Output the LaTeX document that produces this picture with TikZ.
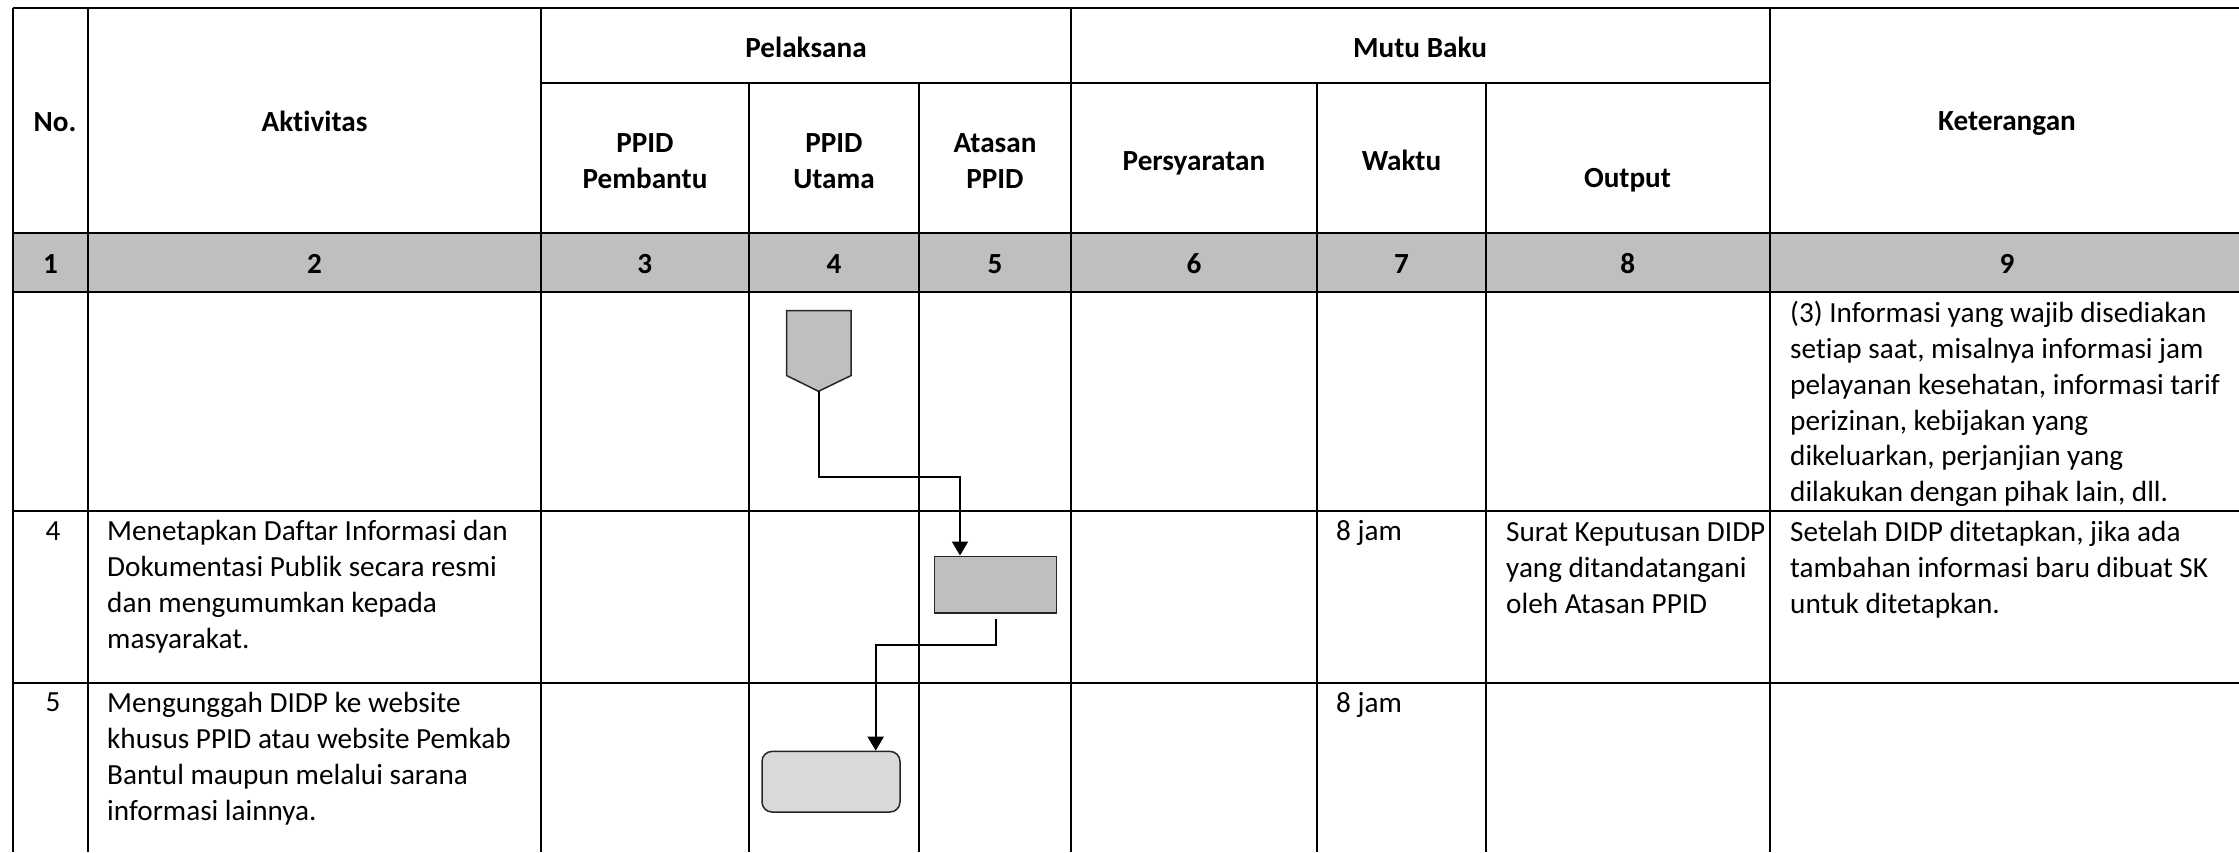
\documentclass[tikz,border=0pt]{standalone}
\usepackage{fontspec}
\setmainfont{Carlito}[Ligatures=NoCommon]
\usepackage{xcolor}
\usepackage{tikz}
\usetikzlibrary{arrows.meta}
\definecolor{headgray}{HTML}{BFBFBF}
\definecolor{endgray}{HTML}{D9D9D9}
\newcommand\bodyfont{\fontsize{29.2}{35.8}\selectfont}

\begin{document}
\begin{tikzpicture}[x=1pt,y=-1pt,
    grid/.style={line width=2pt},
    head/.style={anchor=base, align=center, inner sep=0pt, font=\bodyfont\bfseries},
    cell/.style={anchor=base west, align=left, inner sep=0pt, font=\bodyfont},
    symb/.style={draw=black!85, line width=1.5pt, fill=headgray},
    flow/.style={line width=2pt, -{Triangle[width=16pt,length=14pt]}}]
        \useasboundingbox (0,0) rectangle (2239,852);

        % Table grid
        \fill[headgray] (12.5,233) rectangle (2239,291.7);
        \draw[grid] (12.5,7.5) -- (2239,7.5);
        \draw[grid] (540.5,83) -- (1769.5,83);
        \foreach \y in {233,291.7,510.7,682.6}
            \draw[grid] (12.5,\y) -- (2239,\y);
        \foreach \x in {12.5,88.3,540.5,1071,1769.5}
            \draw[grid] (\x,7.5) -- (\x,852);
        \foreach \x in {749,919,1317,1486}
            \draw[grid] (\x,83) -- (\x,852);

        % Header (base = last line)
        \node[head] (hno) at (55,131) {No.};
        \node[head] (hakt) at (314.5,131) {Aktivitas};
        \node[head] (hpel) at (806,57) {Pelaksana};
        \node[head] (hmutu) at (1420,57) {Mutu Baku};
        \node[head] (hket) at (2007,130) {Keterangan};
        \node[head] (hpemb) at (645,188) {PPID\\Pembantu};
        \node[head] (hutama) at (834,188) {PPID\\Utama};
        \node[head] (hatasan) at (995,188) {Atasan\\PPID};
        \node[head] (hsyarat) at (1194,170) {Persyaratan};
        \node[head] (hwaktu) at (1401.5,170) {Waktu};
        \node[head] (houtput) at (1627.5,187) {Output};
        \foreach \n/\x in {1/50.4,2/314.4,3/644.7,4/834,5/995,6/1194,7/1401.5,8/1627.7,9/2007}
            \node[head] (num\n) at (\x,273) {\n};

        % Rows (base = last line)
        \node[cell] (ketA) at (1790,501.7) {(3) Informasi yang wajib disediakan\\setiap saat, misalnya informasi jam\\pelayanan kesehatan, informasi tarif\\perizinan, kebijakan yang\\dikeluarkan, perjanjian yang\\dilakukan dengan pihak lain, dll.};
        \node[cell, anchor=base] (no4) at (53,540) {4};
        \node[cell] (akt4) at (107,648.3) {Menetapkan Daftar Informasi dan\\Dokumentasi Publik secara resmi\\dan mengumumkan kepada\\masyarakat.};
        \node[cell] (wkt4) at (1336,540.7) {8 jam};
        \node[cell] (out4) at (1506,613.3) {Surat Keputusan DIDP\\yang ditandatangani\\oleh Atasan PPID};
        \node[cell] (ket4) at (1790,613) {Setelah DIDP ditetapkan, jika ada\\tambahan informasi baru dibuat SK\\untuk ditetapkan.};
        \node[cell, anchor=base] (no5) at (53,711.7) {5};
        \node[cell] (akt5) at (107,820) {Mengunggah DIDP ke website\\khusus PPID atau website Pemkab\\Bantul maupun melalui sarana\\informasi lainnya.};
        \node[cell] (wkt5) at (1336,712.7) {8 jam};

        % Flow symbols
        \draw[symb] (786.7,310.6) -- (851,310.6) -- (851,375.6) -- (818.5,391.3) -- (786.7,375.6) -- cycle;
        \coordinate (offpage) at (818.5,391.3);
        \node[symb, minimum width=122.4pt, minimum height=56.5pt] (tetap) at (995.5,584.5) {};
        \node[symb, fill=endgray, rounded corners=10pt, minimum width=138pt, minimum height=60.6pt] (unggah) at (831,781.7) {};

        \draw[flow] (offpage) -- ++(0,85.7) -| ([xshift=-35.5pt]tetap.north);
        \draw[flow] ([yshift=-5pt]tetap.south) -- ++(0,26.5) -| ([xshift=44.7pt]unggah.north);
\end{tikzpicture}
\end{document}
